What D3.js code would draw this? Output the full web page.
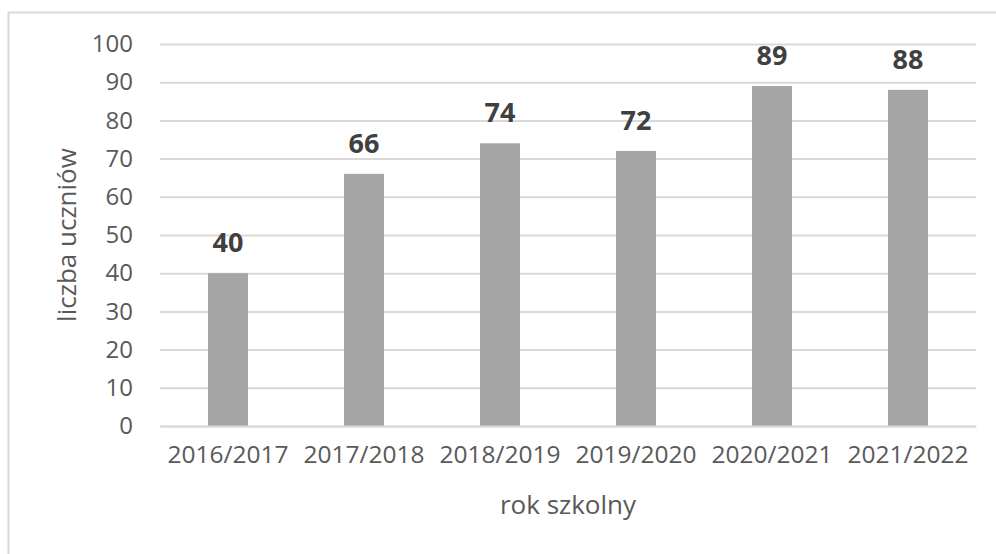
<!DOCTYPE html>
<html>
<head>
<meta charset="utf-8">
<script src="https://cdn.jsdelivr.net/npm/d3@7"></script>
<style>
  html, body { margin: 0; padding: 0; background: #fff; }
  svg { display: block; }
  text { font-family: "Open Sans", sans-serif; }
</style>
</head>
<body>
<svg id="chart" width="996" height="554"></svg>
<script>
const categories = ["2016/2017", "2017/2018", "2018/2019", "2019/2020", "2020/2021", "2021/2022"];
const values = [40, 66, 74, 72, 89, 88];
const yTicks = [0, 10, 20, 30, 40, 50, 60, 70, 80, 90, 100];
const xTitle = "rok szkolny";
const yTitle = "liczba uczniów";

const svg = d3.select("#chart");
const W = 996, H = 554;
const margin = { left: 160, right: 20, top: 44, bottom: 128 };
const plotW = W - margin.left - margin.right;
const plotH = H - margin.top - margin.bottom;

// outer frame (only top and left edges visible)
svg.append("rect")
  .attr("x", 8.5).attr("y", 12.5)
  .attr("width", W + 20).attr("height", H + 20)
  .attr("fill", "none").attr("stroke", "#d9d9d9").attr("stroke-width", 2);

const g = svg.append("g").attr("transform", `translate(${margin.left},${margin.top})`);

const x = d3.scaleBand().domain(categories).range([0, plotW]).paddingInner(0.706).paddingOuter(0.353);
const y = d3.scaleLinear().domain([0, 100]).range([plotH, 0]);

// gridlines
const yAxis = d3.axisLeft(y).tickValues(yTicks).tickSize(-plotW).tickPadding(27);
const ya = g.append("g").call(yAxis);
ya.select(".domain").remove();
ya.selectAll(".tick line").attr("stroke", "#d9d9d9").attr("stroke-width", 2);
ya.selectAll(".tick text").attr("fill", "#595959").attr("font-size", 24).attr("font-family", "'Open Sans', sans-serif");

// bars
g.selectAll("rect.bar").data(values).enter().append("rect")
  .attr("class", "bar")
  .attr("x", (d, i) => x(categories[i]))
  .attr("y", d => y(d))
  .attr("width", x.bandwidth())
  .attr("height", d => plotH - y(d))
  .attr("fill", "#a5a5a5");

// data labels
g.selectAll("text.lbl").data(values).enter().append("text")
  .attr("class", "lbl")
  .attr("x", (d, i) => x(categories[i]) + x.bandwidth() / 2)
  .attr("y", d => y(d) - 21)
  .attr("text-anchor", "middle")
  .attr("font-size", 27).attr("font-weight", "bold")
  .attr("fill", "#404040")
  .text(d => d);

// x axis
const xAxis = d3.axisBottom(x).tickSize(0).tickPadding(20);
const xa = g.append("g").attr("transform", `translate(0,${plotH})`).call(xAxis);
xa.select(".domain").attr("stroke", "#d9d9d9").attr("stroke-width", 2);
xa.selectAll(".tick text").attr("fill", "#595959").attr("font-size", 24.5).attr("font-family", "'Open Sans', sans-serif");

// axis titles
svg.append("text")
  .attr("x", margin.left + plotW / 2).attr("y", 514)
  .attr("text-anchor", "middle").attr("font-size", 26).attr("fill", "#595959")
  .text(xTitle);

svg.append("text")
  .attr("transform", `translate(76,${margin.top + plotH / 2}) rotate(-90)`)
  .attr("text-anchor", "middle").attr("font-size", 26).attr("fill", "#595959")
  .text(yTitle);
</script>
</body>
</html>
